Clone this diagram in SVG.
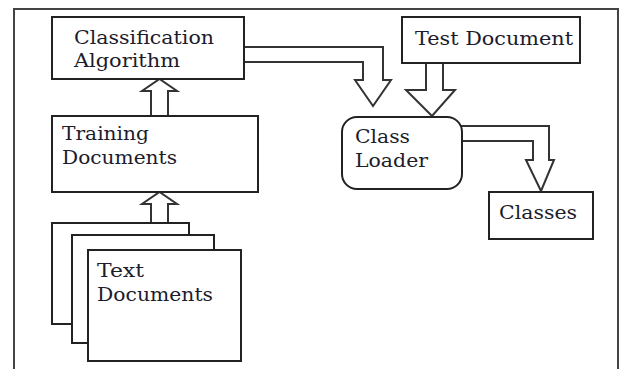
<svg xmlns="http://www.w3.org/2000/svg" width="624" height="369" viewBox="0 0 624 369">
  <style>
    .box { fill: #ffffff; stroke: #222222; stroke-width: 2; }
    .frame { fill: none; stroke: #444444; stroke-width: 2; }
    .arrow { fill: #ffffff; stroke: #333333; stroke-width: 2; stroke-linejoin: miter; }
    .label { font-family: 'DejaVu Serif', 'Liberation Serif', serif; font-size: 18px; fill: #1c1c2c; }
  </style>
  <rect width="624" height="369" fill="#ffffff"/>
  <!-- outer frame -->
  <rect class="frame" x="14" y="9" width="604" height="370"/>

  <g id="connectors">
    <path class="arrow" d="M151,116 V91 H142 L159.5,79 L177,91 H168 V116"/>
    <path class="arrow" d="M151,223 V204 H142 L159.5,192 L177,204 H168 V223"/>
    <path class="arrow" d="M244,47 H383 V80 H391 L373,106 L355,80 H363 V62 H244"/>
    <path class="arrow" d="M426,63 V90 H406 L432,116 L455,90 H443 V63"/>
    <path class="arrow" d="M460,126 H549 V160 H554 L541,191 L526,160 H533 V141 H460"/>
  </g>

  <g id="classification-algorithm">
    <rect class="box" x="52" y="17" width="192" height="62"/>
    <text class="label" x="74" y="44" textLength="140" lengthAdjust="spacingAndGlyphs">Classification</text>
    <text class="label" x="74" y="67" textLength="106" lengthAdjust="spacingAndGlyphs">Algorithm</text>
  </g>

  <g id="training-documents">
    <rect class="box" x="52" y="116" width="206" height="76"/>
    <text class="label" x="62" y="140" textLength="87" lengthAdjust="spacingAndGlyphs">Training</text>
    <text class="label" x="62" y="164" textLength="115" lengthAdjust="spacingAndGlyphs">Documents</text>
  </g>

  <g id="text-documents">
    <rect class="box" x="52" y="223" width="137" height="101"/>
    <rect class="box" x="72" y="235" width="142" height="108"/>
    <rect class="box" x="88" y="250" width="153" height="111"/>
    <text class="label" x="97" y="277" textLength="47" lengthAdjust="spacingAndGlyphs">Text</text>
    <text class="label" x="97" y="301" textLength="116" lengthAdjust="spacingAndGlyphs">Documents</text>
  </g>

  <g id="test-document">
    <rect class="box" x="402" y="17" width="178" height="46"/>
    <text class="label" x="415" y="45" textLength="158" lengthAdjust="spacingAndGlyphs">Test Document</text>
  </g>

  <g id="class-loader">
    <rect class="box" x="342" y="117" width="120" height="72" rx="15" ry="15"/>
    <text class="label" x="355" y="143" textLength="55" lengthAdjust="spacingAndGlyphs">Class</text>
    <text class="label" x="355" y="167" textLength="73" lengthAdjust="spacingAndGlyphs">Loader</text>
  </g>

  <g id="classes">
    <rect class="box" x="489" y="192" width="104" height="47"/>
    <text class="label" x="499" y="219" textLength="78" lengthAdjust="spacingAndGlyphs">Classes</text>
  </g>
</svg>
